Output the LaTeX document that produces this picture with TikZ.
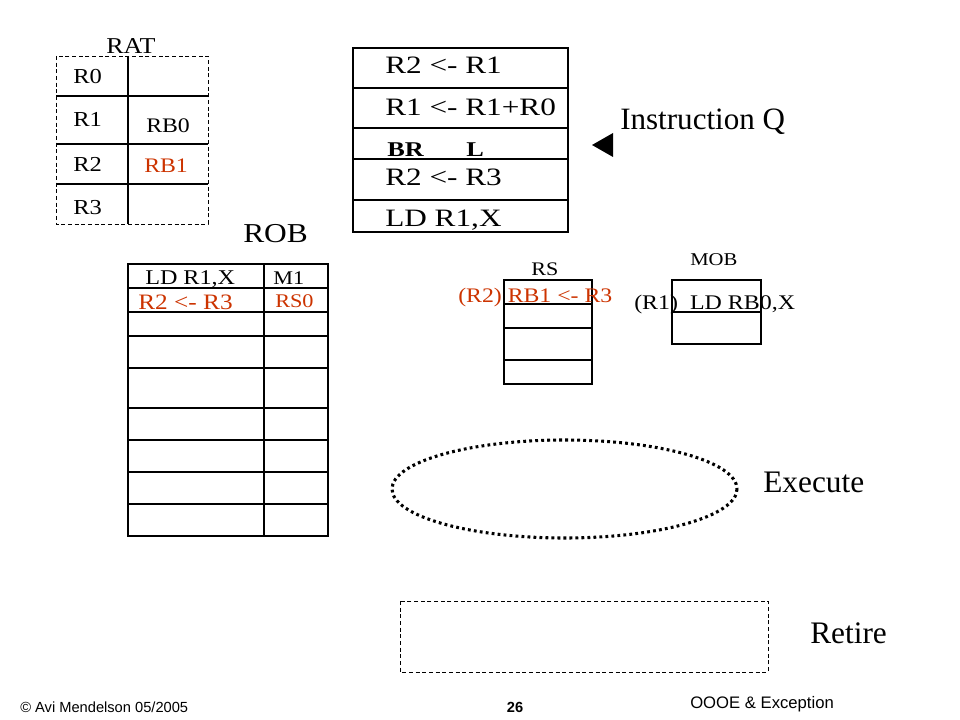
\documentclass[tikz,border=0pt]{standalone}
\usepackage{fontspec}
\setmainfont{Liberation Serif}
\newfontfamily\wideserif{Liberation Serif}[FakeStretch=1.15]
\newfontfamily\instrserif{Liberation Serif}[FakeStretch=1.25]
\newfontfamily\footsans{Liberation Sans}
\definecolor{robred}{RGB}{204,51,0}

\begin{document}
\begin{tikzpicture}[x=0.75pt,y=-0.75pt,
  grid/.style={line width=0.8pt},
  txt/.style={inner sep=0pt,anchor=base west},
  small/.style={txt,font=\wideserif\fontsize{16}{18}\selectfont},
  instr/.style={txt,font=\instrserif\fontsize{18.75}{20}\selectfont},
  title/.style={txt,font=\fontsize{23.3}{25}\selectfont},
  stage/.style={txt,font=\fontsize{23.5}{25}\selectfont},
  foot/.style={inner sep=0pt,font=\footsans\fontsize{11}{12}\selectfont}]
\useasboundingbox (0,0) rectangle (960,720);

% RAT
\coordinate (ratNW) at (56,56);
\coordinate (ratSE) at (208,224);
\draw[dash pattern=on 3pt off 2pt, line width=0.7pt] (ratNW) rectangle (ratSE);
\draw[grid] (128,56) -- (128,224);
\foreach \y in {96,144,184} \draw[grid] (56,\y) -- (208,\y);

\node[small, font=\wideserif\fontsize{17}{18}\selectfont] (rat) at (106,54) {RAT};
\node[small] (r0) at (73,84) {R0};
\node[small] (r1) at (73,127) {R1};
\node[small] (r2) at (73,172) {R2};
\node[small] (r3) at (73,215) {R3};
\node[small, font=\wideserif\fontsize{15.5}{18}\selectfont] (rb0) at (146,133) {RB0};
\node[small, font=\wideserif\fontsize{15.5}{18}\selectfont, robred] (rb1) at (144,173) {RB1};

% instruction queue
\draw[grid] (353,48) rectangle (568,232);
\foreach \y in {88,128,159,200} \draw[grid] (353,\y) -- (568,\y);

\node[instr] (i1) at (385,74) {R2 <- R1};
\node[instr] (i2) at (385,116) {R1 <- R1+R0};
\node[instr, font=\instrserif\fontsize{15.75}{17}\selectfont\bfseries] (i3) at (387,157) {BR\hspace{32pt}L};
\node[instr] (i4) at (385,186) {R2 <- R3};
\node[instr] (i5) at (385,227) {LD R1,X};

\fill (592,145) -- (613,133) -- (613,157) -- cycle;
\node[title] (iq) at (620,130) {Instruction Q};

% ROB
\node[title, font=\wideserif\fontsize{20.5}{22}\selectfont] (rob) at (243,243) {ROB};
\draw[grid] (128,264) rectangle (328,536);
\draw[grid] (264,264) -- (264,536);
\foreach \y in {288,312,336,368,408,440,472,504} \draw[grid] (128,\y) -- (328,\y);

\node[small, font=\wideserif\fontsize{15.75}{17}\selectfont] (rob1) at (145,285) {LD R1,X};
\node[small, font=\wideserif\fontsize{14.5}{16}\selectfont] (rob1d) at (273,285) {M1};
\node[small, font=\wideserif\fontsize{16.5}{18}\selectfont, robred] (rob2) at (138,310) {R2 <- R3};
\node[small, font=\wideserif\fontsize{14.5}{16}\selectfont, robred] (rob2d) at (275,307) {RS0};

% RS
\node[small, font=\wideserif\fontsize{14.4}{16}\selectfont] (rs) at (531,276) {RS};
\draw[grid] (504,280) rectangle (592,384);
\foreach \y in {304,328,360} \draw[grid] (504,\y) -- (592,\y);
\node[small, font=\wideserif\fontsize{15.5}{17}\selectfont, robred] (rs1) at (458,302) {(R2) RB1 <- R3};

% MOB
\node[small, font=\wideserif\fontsize{13.5}{15}\selectfont] (mob) at (690,266) {MOB};
\draw[grid] (672,280) rectangle (761,344);
\draw[grid] (672,312) -- (761,312);
\node[small, font=\wideserif\fontsize{15.6}{17}\selectfont] (mob1) at (634,310) {(R1)\hspace{9pt}LD RB0,X};

% execute and retire
\draw[line width=2.3pt, dash pattern=on 2.1pt off 2.4pt] (564.5,489) ellipse [x radius=172.5, y radius=49];
\node[stage] (exec) at (763,492) {Execute};
\draw[dash pattern=on 3pt off 2pt, line width=0.7pt] (400,601) rectangle (768,672);
\node[stage] (ret) at (810,643) {Retire};

% footer
\node[foot, anchor=base west] (auth) at (20,712) {© Avi Mendelson 05/2005};
\node[foot, anchor=base, font=\footsans\bfseries\fontsize{11}{12}\selectfont] (page) at (515,712) {26};
\node[foot, anchor=base west, font=\footsans\fontsize{12.5}{14}\selectfont] (topic) at (690,708) {OOOE \& Exception};
\end{tikzpicture}
\end{document}
